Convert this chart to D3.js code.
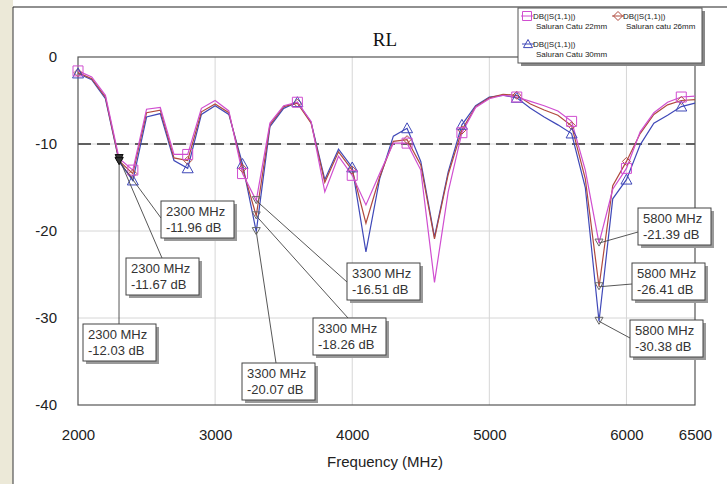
<!DOCTYPE html>
<html>
<head>
<meta charset="utf-8">
<script src="https://cdn.jsdelivr.net/npm/d3@7"></script>
<style>
  body { margin: 0; background: #fff; }
  svg text { font-family: Arial, "Liberation Sans", sans-serif; }
</style>
</head>
<body>
<div id="plot"></div>
<script>
var width = 727;
var height = 484;

// frequency points (MHz)
var freqs = [2000, 2100, 2200, 2300, 2400, 2500, 2600, 2700, 2800, 2900,
             3000, 3100, 3200, 3300, 3400, 3500, 3600, 3700, 3800, 3900,
             4000, 4100, 4200, 4300, 4400, 4500, 4600, 4700, 4800, 4900,
             5000, 5100, 5200, 5300, 5400, 5500, 5600, 5700, 5800, 5900,
             6000, 6100, 6200, 6300, 6400, 6500];

// DB(|S(1,1)|) Saluran Catu 22mm
var s22 = [-1.6, -2.3, -4.4, -11.67, -13.0, -6.0, -5.8, -11.2, -11.2, -5.9,
           -5.0, -6.2, -13.4, -16.51, -7.6, -5.6, -5.2, -7.4, -15.5, -11.4,
           -13.6, -17.0, -13.4, -9.9, -9.9, -13.0, -25.9, -15.5, -8.7, -5.8,
           -4.8, -4.4, -4.6, -5.1, -5.6, -6.2, -7.4, -13.0, -21.39, -15.2,
           -12.8, -8.6, -6.4, -5.2, -4.6, -4.5];
// DB(|S(1,1)|) Saluran catu 26mm
var s26 = [-1.8, -2.5, -4.6, -11.96, -13.4, -6.4, -6.1, -11.6, -11.9, -6.3,
           -5.4, -6.4, -12.8, -18.26, -7.8, -5.7, -5.3, -7.6, -14.4, -10.9,
           -13.0, -19.1, -13.8, -9.7, -9.5, -12.4, -20.9, -13.5, -8.4, -5.7,
           -4.7, -4.3, -4.4, -5.4, -6.1, -6.7, -7.9, -14.0, -26.41, -14.8,
           -12.0, -8.8, -6.6, -5.5, -5.0, -4.9];
// DB(|S(1,1)|) Saluran Catu 30mm
var s30 = [-1.9, -2.6, -4.8, -12.03, -14.2, -6.9, -6.5, -11.9, -12.8, -6.6,
           -5.6, -6.6, -12.3, -20.07, -8.0, -5.9, -5.2, -7.5, -14.1, -10.6,
           -12.7, -22.4, -14.0, -9.1, -8.2, -12.0, -20.7, -13.2, -7.8, -5.6,
           -4.6, -4.4, -4.7, -5.9, -6.9, -7.8, -8.8, -15.0, -30.38, -16.3,
           -14.1, -10.1, -7.6, -6.7, -5.7, -5.3];

var markerFreqs = [2000, 2400, 2800, 3200, 3600, 4000, 4400, 4800, 5200, 5600, 6000, 6400];
var xTicks = [2000, 3000, 4000, 5000, 6000, 6500];
var yTicks = [0, -10, -20, -30, -40];
var gridX = [3000, 4000, 5000, 6000];
var gridY = [-10, -20, -30];
var limitDb = -10;

var seriesNames = ['Saluran Catu 22mm', 'Saluran catu 26mm', 'Saluran Catu 30mm'];
var seriesColors = ['#d04ed0', '#b04a3e', '#3f48b8'];
var seriesValues = [s22, s26, s30];

// marker readouts: frequency, series index, box position (left, top)
var readouts = [
    {f: 2300, s: 1, bx: 161, by: 201, lx: 161, ly: 218},
    {f: 2300, s: 0, bx: 126, by: 258, lx: 162, ly: 258},
    {f: 2300, s: 2, bx: 83, by: 324, lx: 119, ly: 324},
    {f: 3300, s: 0, bx: 347, by: 263, lx: 347, ly: 282},
    {f: 3300, s: 1, bx: 313, by: 318, lx: 348, ly: 318},
    {f: 3300, s: 2, bx: 242, by: 363, lx: 276, ly: 363},
    {f: 5800, s: 0, bx: 638, by: 208, lx: 638, ly: 232},
    {f: 5800, s: 1, bx: 632, by: 263, lx: 632, ly: 284},
    {f: 5800, s: 2, bx: 630, by: 320, lx: 630, ly: 338}
];

var svg = d3.select('#plot')
    .append('svg')
    .attr('width', width)
    .attr('height', height);

svg.append('rect').attr('width', width).attr('height', height).attr('fill', '#fff');

// window frame
svg.append('rect').attr('x', 0).attr('y', 0).attr('width', 13).attr('height', height).attr('fill', '#ece9d8');
svg.append('line').attr('x1', 13).attr('x2', 13).attr('y1', 7).attr('y2', height)
    .attr('stroke', '#555').attr('stroke-width', 1.2);
svg.append('line').attr('x1', 13).attr('x2', width).attr('y1', 7).attr('y2', 7)
    .attr('stroke', '#222').attr('stroke-width', 1.2);

var x = d3.scaleLinear().domain([2000, 6500]).range([78, 695]);
var y = d3.scaleLinear().domain([0, -40]).range([57, 405]);

// grid
svg.selectAll('line.gx')
    .data(gridX)
    .enter()
    .append('line')
    .attr('class', 'gx')
    .attr('x1', function(d) { return x(d); })
    .attr('x2', function(d) { return x(d); })
    .attr('y1', y(0))
    .attr('y2', y(-40))
    .attr('stroke', '#d6d6d6');

svg.selectAll('line.gy')
    .data(gridY)
    .enter()
    .append('line')
    .attr('class', 'gy')
    .attr('x1', x(2000))
    .attr('x2', x(6500))
    .attr('y1', function(d) { return y(d); })
    .attr('y2', function(d) { return y(d); })
    .attr('stroke', '#d6d6d6');

// -10 dB limit
svg.append('line')
    .attr('x1', x(2000)).attr('x2', x(6500))
    .attr('y1', y(limitDb)).attr('y2', y(limitDb))
    .attr('stroke', '#333')
    .attr('stroke-width', 1.4)
    .attr('stroke-dasharray', '13,6');

// frame of plot
svg.append('rect')
    .attr('x', x(2000)).attr('y', y(0))
    .attr('width', x(6500) - x(2000)).attr('height', y(-40) - y(0))
    .attr('fill', 'none')
    .attr('stroke', '#555')
    .attr('stroke-width', 1.2);

// axes
var plainNum = function(d) { return String(d); };
var xAxis = d3.axisBottom(x).tickValues(xTicks).tickSize(0).tickPadding(24).tickFormat(plainNum);
var gx = svg.append('g').attr('transform', 'translate(0,' + y(-40) + ')').call(xAxis);
gx.select('.domain').remove();
gx.selectAll('text').attr('font-size', 15).attr('fill', '#222').attr('font-family', 'Arial, "Liberation Sans", sans-serif');

var yAxis = d3.axisLeft(y).tickValues(yTicks).tickSize(0).tickPadding(21).tickFormat(plainNum);
var gy = svg.append('g').attr('transform', 'translate(' + x(2000) + ',0)').call(yAxis);
gy.select('.domain').remove();
gy.selectAll('text').attr('font-size', 15).attr('fill', '#222').attr('font-family', 'Arial, "Liberation Sans", sans-serif');

svg.append('text')
    .attr('x', 385).attr('y', 467)
    .attr('text-anchor', 'middle')
    .attr('font-size', 15)
    .attr('fill', '#222')
    .text('Frequency (MHz)');

svg.append('text')
    .attr('x', 385).attr('y', 46)
    .attr('text-anchor', 'middle')
    .attr('font-size', 19)
    .attr('fill', '#111')
    .style('font-family', '"Liberation Serif", "Times New Roman", serif')
    .text('RL');

// series lines
var lineGen = d3.line()
    .x(function(d) { return x(d[0]); })
    .y(function(d) { return y(d[1]); });

var drawOrder = [2, 1, 0];
drawOrder.forEach(function(si) {
    var pts = freqs.map(function(f, i) { return [f, seriesValues[si][i]]; });
    svg.append('path')
        .attr('d', lineGen(pts))
        .attr('fill', 'none')
        .attr('stroke', seriesColors[si])
        .attr('stroke-width', 1.2);
});

function valueAt(si, f) {
    return seriesValues[si][freqs.indexOf(f)];
}

// markers
function squarePath(cx, cy, r) {
    return 'M' + (cx - r) + ',' + (cy - r) + 'h' + 2 * r + 'v' + 2 * r + 'h' + (-2 * r) + 'Z';
}
function diamondPath(cx, cy, r) {
    return 'M' + cx + ',' + (cy - r) + 'L' + (cx + r) + ',' + cy + 'L' + cx + ',' + (cy + r) + 'L' + (cx - r) + ',' + cy + 'Z';
}
function trianglePath(cx, cy, r) {
    return 'M' + cx + ',' + (cy - r) + 'L' + (cx + r) + ',' + (cy + r * 0.8) + 'L' + (cx - r) + ',' + (cy + r * 0.8) + 'Z';
}
var shapes = [squarePath, diamondPath, trianglePath];
var shapeSize = [5, 4, 5.5];

[1, 2, 0].forEach(function(si) {
    svg.selectAll('path.m' + si)
        .data(markerFreqs)
        .enter()
        .append('path')
        .attr('class', 'm' + si)
        .attr('d', function(f) { return shapes[si](x(f), y(valueAt(si, f)), shapeSize[si]); })
        .attr('fill', 'none')
        .attr('stroke', seriesColors[si])
        .attr('stroke-width', 1);
});

// readout markers, leaders and boxes
var ro = svg.selectAll('g.readout')
    .data(readouts)
    .enter()
    .append('g')
    .attr('class', 'readout');

ro.append('line')
    .attr('x1', function(d) { return x(d.f); })
    .attr('y1', function(d) { return y(valueAt(d.s, d.f)); })
    .attr('x2', function(d) { return d.lx; })
    .attr('y2', function(d) { return d.ly; })
    .attr('stroke', '#444')
    .attr('stroke-width', 0.9);

ro.append('path')
    .attr('d', function(d) {
        var cx = x(d.f), cy = y(valueAt(d.s, d.f));
        return 'M' + (cx - 4) + ',' + (cy - 4) + 'L' + (cx + 4) + ',' + (cy - 4) + 'L' + cx + ',' + (cy + 3) + 'Z';
    })
    .attr('fill', function(d) { return d.f === 2300 ? '#333' : 'none'; })
    .attr('stroke', function(d) { return d.f === 2300 ? '#111' : '#666'; })
    .attr('stroke-width', 1);

ro.append('rect')
    .attr('x', function(d) { return d.bx + 3; })
    .attr('y', function(d) { return d.by + 3; })
    .attr('width', 73).attr('height', 37)
    .attr('fill', '#9a9a9a');

ro.append('rect')
    .attr('x', function(d) { return d.bx; })
    .attr('y', function(d) { return d.by; })
    .attr('width', 73).attr('height', 37)
    .attr('fill', '#fff')
    .attr('stroke', '#444')
    .attr('stroke-width', 1);

ro.append('text')
    .attr('x', function(d) { return d.bx + 5; })
    .attr('y', function(d) { return d.by + 15; })
    .attr('font-size', 13)
    .attr('fill', '#333')
    .text(function(d) { return d.f + ' MHz'; });

ro.append('text')
    .attr('x', function(d) { return d.bx + 5; })
    .attr('y', function(d) { return d.by + 31; })
    .attr('font-size', 13)
    .attr('fill', '#333')
    .text(function(d) { return valueAt(d.s, d.f).toFixed(2) + ' dB'; });

// legend
var lg = svg.append('g');
lg.append('rect').attr('x', 521).attr('y', 11).attr('width', 184).attr('height', 55).attr('fill', '#888');
lg.append('rect').attr('x', 518).attr('y', 8).attr('width', 184).attr('height', 55)
    .attr('fill', '#fff').attr('stroke', '#555').attr('stroke-width', 1);

var legendPos = [[527, 16, 533, 536], [618, 16, 623, 626], [528, 44, 533, 536]];
legendPos.forEach(function(p, si) {
    lg.append('line')
        .attr('x1', p[0] - 6).attr('x2', p[0] + 6)
        .attr('y1', p[1]).attr('y2', p[1])
        .attr('stroke', seriesColors[si]).attr('stroke-width', 1);
    lg.append('path')
        .attr('d', shapes[si](p[0], p[1], 4.5))
        .attr('fill', 'none')
        .attr('stroke', seriesColors[si]).attr('stroke-width', 1);
    lg.append('text')
        .attr('x', p[2]).attr('y', p[1] + 3)
        .attr('font-size', 8).attr('fill', '#222')
        .text('DB(|S(1,1)|)');
    lg.append('text')
        .attr('x', p[3]).attr('y', p[1] + 13)
        .attr('font-size', 8).attr('fill', '#222')
        .text(seriesNames[si]);
});
</script>
</body>
</html>
